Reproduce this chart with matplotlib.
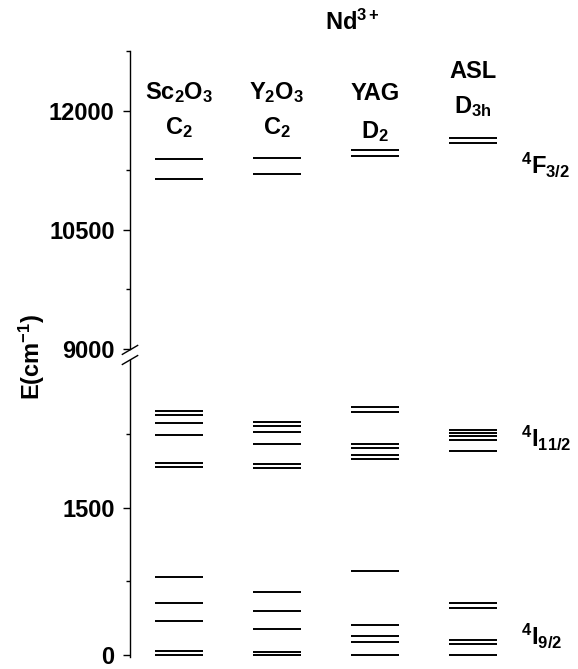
import numpy as np
import matplotlib
matplotlib.use('Agg')
import matplotlib.pyplot as plt
from matplotlib import transforms

plt.rcParams['font.family'] = 'Liberation Sans'
plt.rcParams['font.weight'] = 'bold'
plt.rcParams['mathtext.fontset'] = 'custom'
plt.rcParams['mathtext.rm'] = 'Liberation Sans:bold'
plt.rcParams['mathtext.bf'] = 'Liberation Sans:bold'
plt.rcParams['mathtext.it'] = 'Liberation Sans:bold'
plt.rcParams['mathtext.default'] = 'bf'

# Nd3+ crystal-field levels (cm^-1)
hosts = ['Sc$_2$O$_3$', 'Y$_2$O$_3$', 'YAG', 'ASL']
site_sym = ['C$_2$', 'C$_2$', 'D$_2$', 'D$_{3h}$']

f32 = [[11145, 11395], [11208, 11404], [11427, 11502], [11592, 11654]]
i112 = [[1907, 1948, 2241, 2360, 2444, 2484],
        [1898, 1938, 2150, 2272, 2325, 2366],
        [1996, 2029, 2107, 2147, 2471, 2521],
        [2072, 2191, 2224, 2258, 2292]]
i92 = [[0, 40, 350, 533, 793],
       [0, 30, 267, 445, 641],
       [0, 128, 196, 310, 857],
       [0, 115, 152, 475, 526]]

upper_ticks = [9000, 10500, 12000]
lower_ticks = [0, 1500]

W, H = 578, 669
fig = plt.figure(figsize=(W / 100, H / 100), dpi=100)


def rect(l, t, r, b):
    return [l / W, 1 - b / H, (r - l) / W, (b - t) / H]


ax_top = fig.add_axes(rect(130, 51, 522, 349))
ax_bot = fig.add_axes(rect(130, 360, 522, 657))

x = np.arange(len(hosts))
half = 0.245
for i in x:
    ax_top.hlines(f32[i], x[i] - half, x[i] + half, color='black', lw=1.4)
    ax_bot.hlines(i112[i], x[i] - half, x[i] + half, color='black', lw=1.4)
    ax_bot.hlines(i92[i], x[i] - half, x[i] + half, color='black', lw=1.4)

for ax in (ax_top, ax_bot):
    ax.set_xlim(-0.5, 3.5)
    for s in ('top', 'right', 'bottom'):
        ax.spines[s].set_visible(False)
    ax.spines['left'].set_linewidth(1.0)
    ax.set_xticks([])
    ax.tick_params(axis='y', which='major', length=5, width=1.0, pad=6, labelsize=17)
    ax.tick_params(axis='y', which='minor', length=3, width=1.0)

ax_top.set_ylim(9000, 12750)
ax_top.set_yticks(upper_ticks)
ax_top.set_yticks([9750, 11250, 12750], minor=True)
ax_bot.set_ylim(-20, 3000)
ax_bot.set_yticks(lower_ticks)
ax_bot.set_yticks([750, 2250], minor=True)

# break marks on the axis
d = dict(color='black', lw=1.0, clip_on=False)
ax_top.plot([-0.0195, 0.0195], [-0.018, 0.012], transform=ax_top.transAxes, **d)
ax_bot.plot([-0.0195, 0.0195], [0.985, 1.015], transform=ax_bot.transAxes, **d)

# column headings
tr = transforms.blended_transform_factory(ax_top.transData, fig.transFigure)
row1 = [99, 99, 100, 78]
row2 = [134, 134, 138, 113]
for i in x:
    ax_top.text(x[i], 1 - row1[i] / H, hosts[i], transform=tr, ha='center',
                va='baseline', fontsize=17)
    ax_top.text(x[i], 1 - row2[i] / H, site_sym[i], transform=tr, ha='center',
                va='baseline', fontsize=17)

fig.text(352 / W, 1 - 30 / H, 'Nd$^{3+}$', ha='center', va='baseline', fontsize=17)

# multiplet labels
fig.text(521 / W, 1 - 174 / H, '$^4$F$_{3/2}$', ha='left', va='baseline', fontsize=17)
fig.text(521 / W, 1 - 447 / H, '$^4$I$_{11/2}$', ha='left', va='baseline', fontsize=17)
fig.text(521 / W, 1 - 645 / H, '$^4$I$_{9/2}$', ha='left', va='baseline', fontsize=17)

fig.text(32 / W, 1 - 357 / H, 'E(cm$^{-1}$)', rotation=90, ha='center', va='center',
         fontsize=17)

fig.savefig('out.png', dpi=100)
